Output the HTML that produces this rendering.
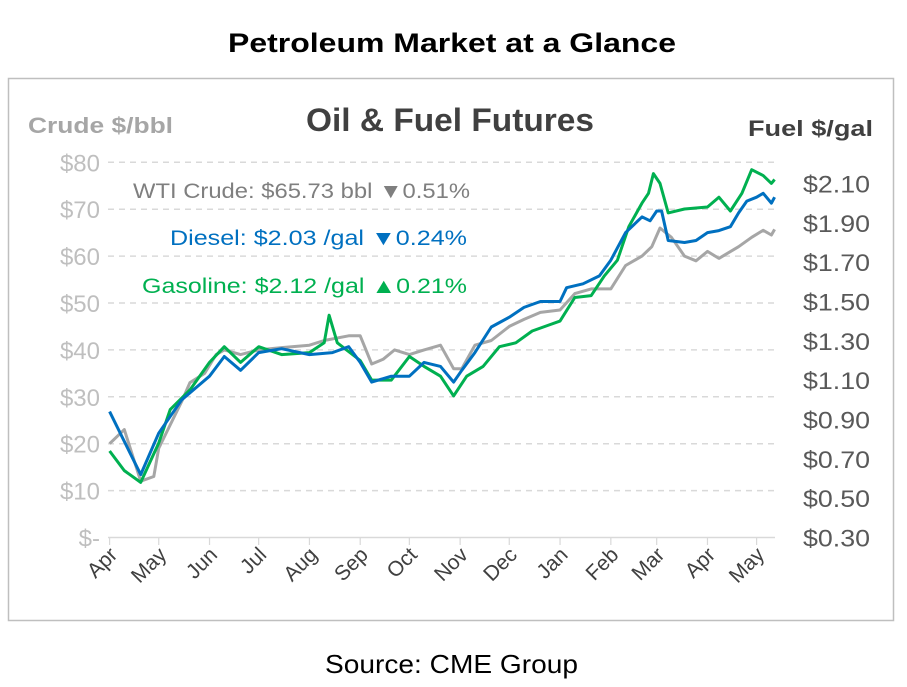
<!DOCTYPE html>
<html><head><meta charset="utf-8"><style>
body{margin:0;background:#fff;font-family:"Liberation Sans",sans-serif;}
#wrap{position:relative;width:907px;height:687px;overflow:hidden;}
</style></head><body>
<div id="wrap">
<svg id="svg" width="907" height="687" xmlns="http://www.w3.org/2000/svg">
<text x="228" y="52" textLength="448" lengthAdjust="spacingAndGlyphs" font-size="27" font-weight="bold" fill="#000">Petroleum Market at a Glance</text>
<rect x="8.5" y="78.5" width="885" height="542" fill="none" stroke="#bfbfbf" stroke-width="1.5"/>
<text x="306" y="131" textLength="288" lengthAdjust="spacingAndGlyphs" font-size="32" font-weight="bold" fill="#404040">Oil &amp; Fuel Futures</text>
<text x="28" y="133" textLength="145" lengthAdjust="spacingAndGlyphs" font-size="22" font-weight="bold" fill="#a6a6a6">Crude $/bbl</text>
<text x="748" y="136" textLength="125" lengthAdjust="spacingAndGlyphs" font-size="22" font-weight="bold" fill="#404040">Fuel $/gal</text>
<g id="grid"></g><g id="lines"></g><g id="axes"></g>
<text x="133" y="198" textLength="337" lengthAdjust="spacingAndGlyphs" font-size="21" fill="#7f7f7f">WTI Crude: $65.73 bbl  ▼0.51%</text>
<text x="170" y="245" textLength="297" lengthAdjust="spacingAndGlyphs" font-size="21" fill="#0070c0">Diesel:   $2.03 /gal  ▼0.24%</text>
<text x="142" y="293" textLength="325" lengthAdjust="spacingAndGlyphs" font-size="21" fill="#00b050">Gasoline:   $2.12 /gal  ▲0.21%</text>
<text x="325" y="673" textLength="253" lengthAdjust="spacingAndGlyphs" font-size="26" fill="#000">Source: CME Group</text>
</svg>
</div>
<script>
const leftTicks=[0,10,20,30,40,50,60,70,80];
const leftLabels=["$-","$10","$20","$30","$40","$50","$60","$70","$80"];
const rightTicks=[0.30,0.50,0.70,0.90,1.10,1.30,1.50,1.70,1.90,2.10];
const monthLabels=["Apr","May","Jun","Jul","Aug","Sep","Oct","Nov","Dec","Jan","Feb","Mar","Apr","May"];
const monthStarts=["2020-04-01","2020-05-01","2020-06-01","2020-07-01","2020-08-01","2020-09-01","2020-10-01","2020-11-01","2020-12-01","2021-01-01","2021-02-01","2021-03-01","2021-04-01","2021-05-01"];
const wtiDates=["2020-04-01","2020-04-10","2020-04-20","2020-04-28","2020-05-01","2020-05-08","2020-05-15","2020-05-20","2020-05-29","2020-06-05","2020-06-10","2020-06-20","2020-07-01","2020-07-15","2020-08-01","2020-08-10","2020-08-25","2020-09-01","2020-09-08","2020-09-15","2020-09-22","2020-10-01","2020-10-10","2020-10-20","2020-10-28","2020-11-02","2020-11-10","2020-11-20","2020-12-01","2020-12-10","2020-12-20","2021-01-01","2021-01-10","2021-01-20","2021-02-01","2021-02-10","2021-02-20","2021-02-26","2021-03-03","2021-03-10","2021-03-18","2021-03-25","2021-04-01","2021-04-08","2021-04-20","2021-04-28","2021-05-05","2021-05-10","2021-05-12"];
const wtiValues=[20,23,12,13,19,24,29,33,35,39,40,39,40,40.5,41,42,43,43,37,38,40,39,40,41,36,36,41,42,45,46.5,48,48.5,52,53,53,58,60,62,66,64,60,59,61,59.5,62,64,65.5,64.5,65.7];
const dieselDates=["2020-04-01","2020-04-20","2020-05-01","2020-05-15","2020-06-01","2020-06-10","2020-06-20","2020-07-01","2020-07-15","2020-08-01","2020-08-15","2020-08-25","2020-09-01","2020-09-08","2020-09-20","2020-10-01","2020-10-10","2020-10-20","2020-10-28","2020-11-02","2020-11-10","2020-11-20","2020-12-01","2020-12-10","2020-12-20","2021-01-01","2021-01-05","2021-01-15","2021-01-25","2021-02-01","2021-02-10","2021-02-20","2021-02-25","2021-03-01","2021-03-04","2021-03-08","2021-03-18","2021-03-25","2021-04-01","2021-04-08","2021-04-15","2021-04-20","2021-04-25","2021-05-01","2021-05-05","2021-05-10","2021-05-12"];
const dieselValues=[0.94,0.62,0.83,1.0,1.12,1.22,1.15,1.24,1.26,1.23,1.24,1.27,1.19,1.09,1.12,1.12,1.19,1.17,1.09,1.15,1.24,1.37,1.42,1.47,1.50,1.50,1.57,1.59,1.63,1.71,1.85,1.93,1.91,1.96,1.96,1.81,1.80,1.81,1.85,1.86,1.88,1.95,2.01,2.03,2.05,2.00,2.03];
const gasDates=["2020-04-01","2020-04-10","2020-04-20","2020-05-01","2020-05-08","2020-05-20","2020-06-01","2020-06-10","2020-06-20","2020-07-01","2020-07-15","2020-08-01","2020-08-10","2020-08-13","2020-08-18","2020-09-01","2020-09-08","2020-09-20","2020-10-01","2020-10-10","2020-10-20","2020-10-28","2020-11-05","2020-11-15","2020-11-25","2020-12-05","2020-12-15","2020-12-25","2021-01-01","2021-01-10","2021-01-20","2021-01-28","2021-02-05","2021-02-12","2021-02-20","2021-02-24","2021-02-27","2021-03-03","2021-03-08","2021-03-18","2021-04-01","2021-04-08","2021-04-15","2021-04-22","2021-04-28","2021-05-05","2021-05-10","2021-05-12"];
const gasValues=[0.74,0.64,0.58,0.78,0.95,1.05,1.19,1.27,1.19,1.27,1.23,1.24,1.29,1.43,1.29,1.20,1.10,1.10,1.22,1.17,1.12,1.02,1.12,1.17,1.27,1.29,1.35,1.38,1.40,1.52,1.53,1.63,1.71,1.88,2.0,2.05,2.15,2.10,1.95,1.97,1.98,2.03,1.96,2.05,2.17,2.14,2.10,2.12];
const NS="http://www.w3.org/2000/svg";
const day0=Date.UTC(2020,3,1);
function dayOf(s){const p=s.split("-");return (Date.UTC(+p[0],+p[1]-1,+p[2])-day0)/86400000;}
function xPos(s){return 109.6+dayOf(s)*1.638;}
function yCrude(v){return 537.5-v*4.69;}
function yFuel(v){return 537.5-(v-0.3)*196.7;}
function mk(tag,attrs,parent){const e=document.createElementNS(NS,tag);for(const k in attrs)e.setAttribute(k,attrs[k]);parent.appendChild(e);return e;}
const grid=document.getElementById("grid"),axes=document.getElementById("axes"),lines=document.getElementById("lines");
leftTicks.forEach((v,i)=>{
  const y=yCrude(v);
  if(v>0){const l=mk("line",{x1:108,x2:775,y1:y,y2:y,stroke:"#d9d9d9","stroke-width":1.5,"stroke-dasharray":"6,5"},grid);
  
  }
  const t=mk("text",{x:100,y:y+9,"text-anchor":"end","font-size":24,fill:"#bfbfbf"},axes);
  t.textContent=leftLabels[i];
  
  
});
rightTicks.forEach(v=>{
  const t=mk("text",{x:803,y:yFuel(v)+9,"font-size":24,fill:"#595959",textLength:67,lengthAdjust:"spacingAndGlyphs"},axes);
  t.textContent="$"+v.toFixed(2);
  
  
});
const ax=mk("line",{x1:108,x2:775,y1:537.5,y2:537.5,stroke:"#d9d9d9","stroke-width":1.5},axes);


monthStarts.forEach((s,i)=>{
  const x=xPos(s);
  const tk=mk("line",{x1:x,x2:x,y1:537.5,y2:545,stroke:"#d9d9d9","stroke-width":1.2},axes);
  
  
  const t=mk("text",{x:x+9,y:556,"text-anchor":"end","font-size":21,fill:"#404040",transform:`rotate(-45 ${x+9} 556)`},axes);
  t.textContent=monthLabels[i];
  
  
});
function series(dates,vals,yf,color,name){
  const d=dates.map((s,i)=>(i?"L":"M")+xPos(s).toFixed(1)+","+yf(vals[i]).toFixed(1)).join("");
  const p=mk("path",{d:d,fill:"none",stroke:color,"stroke-width":3,"stroke-linejoin":"round"},lines);
  
  
}
series(wtiDates,wtiValues,yCrude,"#a6a6a6","wti-crude-line");
series(gasDates,gasValues,yFuel,"#00b050","gasoline-line");
series(dieselDates,dieselValues,yFuel,"#0070c0","diesel-line");
</script>
</body></html>
